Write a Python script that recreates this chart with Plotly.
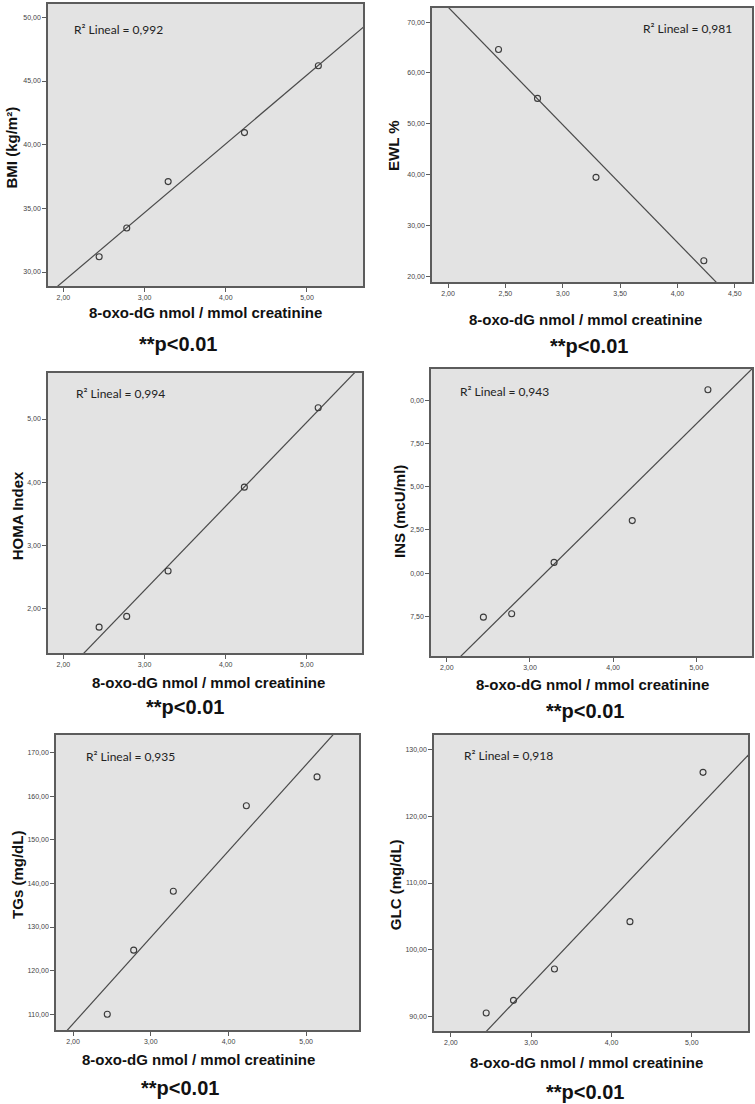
import numpy as np
import plotly.graph_objects as go

W, H = 755, 1104

# ---------------- data ----------------
oxo_dg = [2.44, 2.78, 3.29, 4.23, 5.14]
oxo_dg_ewl = [2.44, 2.78, 3.29, 4.23]

bmi = [31.2, 33.45, 37.1, 40.95, 46.2]
ewl = [64.6, 55.0, 39.5, 23.1]
homa = [1.70, 1.87, 2.59, 3.92, 5.18]
ins = [7.45, 7.65, 10.62, 13.04, 20.62]
tgs = [110.0, 124.7, 138.2, 157.8, 164.4]
glc = [90.5, 92.4, 97.1, 104.2, 126.6]

r2_labels = ["R² Lineal = 0,992", "R² Lineal = 0,981", "R² Lineal = 0,994",
             "R² Lineal = 0,943", "R² Lineal = 0,935", "R² Lineal = 0,918"]
y_titles = ["BMI (kg/m²)", "EWL %", "HOMA Index", "INS (mcU/ml)", "TGs (mg/dL)", "GLC (mg/dL)"]
x_title = "8-oxo-dG nmol / mmol creatinine"
sig_label = "**p<0.01"

x_tickvals = [2, 3, 4, 5]
x_ticktext = ["2,00", "3,00", "4,00", "5,00"]
x_tickvals_ewl = [2, 2.5, 3, 3.5, 4, 4.5]
x_ticktext_ewl = ["2,00", "2,50", "3,00", "3,50", "4,00", "4,50"]

bmi_tickvals = [30, 35, 40, 45, 50]
bmi_ticktext = ["30,00", "35,00", "40,00", "45,00", "50,00"]
ewl_tickvals = [20, 30, 40, 50, 60, 70]
ewl_ticktext = ["20,00", "30,00", "40,00", "50,00", "60,00", "70,00"]
homa_tickvals = [2, 3, 4, 5]
homa_ticktext = ["2,00", "3,00", "4,00", "5,00"]
ins_tickvals = [7.5, 10, 12.5, 15, 17.5, 20]
ins_ticktext = ["7,50", "0,00", "2,50", "5,00", "7,50", "0,00"]  # clipped as in the source image
tgs_tickvals = [110, 120, 130, 140, 150, 160, 170]
tgs_ticktext = ["110,00", "120,00", "130,00", "140,00", "150,00", "160,00", "170,00"]
glc_tickvals = [90, 100, 110, 120, 130]
glc_ticktext = ["90,00", "100,00", "110,00", "120,00", "130,00"]

# ---------------- layout config ----------------
panels = [
    dict(x=oxo_dg, y=bmi, box=(48, 4, 363, 286), xr=(1.81, 5.69), yr=(28.9, 51.05),
         xt=(x_tickvals, x_ticktext), yt=(bmi_tickvals, bmi_ticktext),
         r2=(71.7, 29.3), ytitle=(11, 147.5), xtitle=(205, 312.3), sig=(178.3, 344.3)),
    dict(x=oxo_dg_ewl, y=ewl, box=(432, 8, 752, 282), xr=(1.86, 4.65), yr=(18.94, 72.76),
         xt=(x_tickvals_ewl, x_ticktext_ewl), yt=(ewl_tickvals, ewl_ticktext),
         r2=(640.7, 28.3), ytitle=(394, 145), xtitle=(585.5, 319), sig=(589.3, 345.5)),
    dict(x=oxo_dg, y=homa, box=(48, 373, 362, 653), xr=(1.81, 5.68), yr=(1.29, 5.73),
         xt=(x_tickvals, x_ticktext), yt=(homa_tickvals, homa_ticktext),
         r2=(73.7, 393.7), ytitle=(17.3, 516), xtitle=(208, 682), sig=(184.7, 706.7)),
    dict(x=oxo_dg, y=ins, box=(431, 369, 752, 656), xr=(1.81, 5.67), yr=(5.2, 21.82),
         xt=(x_tickvals, x_ticktext), yt=(ins_tickvals, ins_ticktext),
         r2=(458.3, 391), ytitle=(399, 512), xtitle=(592.5, 684.3), sig=(585, 710.7)),
    dict(x=oxo_dg, y=tgs, box=(56, 735, 359, 1030), xr=(1.78, 5.68), yr=(106.4, 174.0),
         xt=(x_tickvals, x_ticktext), yt=(tgs_tickvals, tgs_ticktext),
         r2=(84.3, 756.7), ytitle=(17.3, 874.6), xtitle=(198.8, 1059.3), sig=(179.5, 1088.3)),
    dict(x=oxo_dg, y=glc, box=(434, 735, 748, 1031), xr=(1.79, 5.70), yr=(87.8, 132.2),
         xt=(x_tickvals, x_ticktext), yt=(glc_tickvals, glc_ticktext),
         r2=(462.3, 755), ytitle=(395.7, 884.5), xtitle=(586.8, 1062.7), sig=(585, 1091.7)),
]

BG = "#e3e3e3"
FRAME = "#5c5c5c"
INK = "#444444"


def px(x):
    return x / W


def py(y):
    return 1 - y / H


fig = go.Figure()
annotations = []

for i, p in enumerate(panels):
    n = i + 1
    xa = "x" if n == 1 else f"x{n}"
    ya = "y" if n == 1 else f"y{n}"
    xs = np.array(p["x"], dtype=float)
    ys = np.array(p["y"], dtype=float)
    slope, icpt = np.polyfit(xs, ys, 1)
    lx = np.array([p["xr"][0] - 1, p["xr"][1] + 1])
    fig.add_trace(go.Scatter(x=lx, y=slope * lx + icpt, mode="lines",
                             line=dict(color="#4a4a4a", width=1.2),
                             xaxis=xa, yaxis=ya, showlegend=False, hoverinfo="skip"))
    fig.add_trace(go.Scatter(x=xs, y=ys, mode="markers",
                             marker=dict(symbol="circle-open", size=6, color="#3a3a3a",
                                         line=dict(width=1.1)),
                             xaxis=xa, yaxis=ya, showlegend=False))
    l, t, r, b = p["box"]
    axis_common = dict(showline=True, mirror=True, linecolor=FRAME, linewidth=1.5,
                       showgrid=False, zeroline=False, ticks="outside", ticklen=4,
                       tickcolor=FRAME, tickwidth=1,
                       tickfont=dict(family="Liberation Sans, Arial, sans-serif", size=7, color=INK))
    fig.layout[("xaxis" if n == 1 else f"xaxis{n}")] = dict(
        domain=[px(l), px(r)], range=list(p["xr"]), anchor=ya,
        tickmode="array", tickvals=p["xt"][0], ticktext=p["xt"][1], **axis_common)
    fig.layout[("yaxis" if n == 1 else f"yaxis{n}")] = dict(
        domain=[py(b), py(t)], range=list(p["yr"]), anchor=xa,
        tickmode="array", tickvals=p["yt"][0], ticktext=p["yt"][1], **axis_common)

    annotations.append(dict(x=px(p["r2"][0]), y=py(p["r2"][1]), xref="paper", yref="paper",
                            text=r2_labels[i], showarrow=False, xanchor="left", yanchor="middle",
                            font=dict(family="Lato, Liberation Sans, sans-serif", size=12, color="#222")))
    annotations.append(dict(x=px(p["ytitle"][0]), y=py(p["ytitle"][1]), xref="paper", yref="paper",
                            text=f"<b>{y_titles[i]}</b>", showarrow=False, textangle=-90,
                            xanchor="center", yanchor="middle",
                            font=dict(family="Liberation Sans, Arial, sans-serif", size=15, color="#111")))
    annotations.append(dict(x=px(p["xtitle"][0]), y=py(p["xtitle"][1]), xref="paper", yref="paper",
                            text=f"<b>{x_title}</b>", showarrow=False,
                            xanchor="center", yanchor="middle",
                            font=dict(family="Liberation Sans, Arial, sans-serif", size=15, color="#111")))
    annotations.append(dict(x=px(p["sig"][0]), y=py(p["sig"][1]), xref="paper", yref="paper",
                            text=f"<b>{sig_label}</b>", showarrow=False,
                            xanchor="center", yanchor="middle",
                            font=dict(family="Liberation Sans, Arial, sans-serif", size=20, color="#111")))

fig.update_layout(width=W, height=H, margin=dict(l=0, r=0, t=0, b=0),
                  paper_bgcolor="white", plot_bgcolor=BG, annotations=annotations,
                  showlegend=False)

fig.write_html("out.html", config={"displayModeBar": False},
               post_script="document.body.style.margin='0';document.body.style.padding='0';"
                           "document.body.style.overflow='hidden';")
